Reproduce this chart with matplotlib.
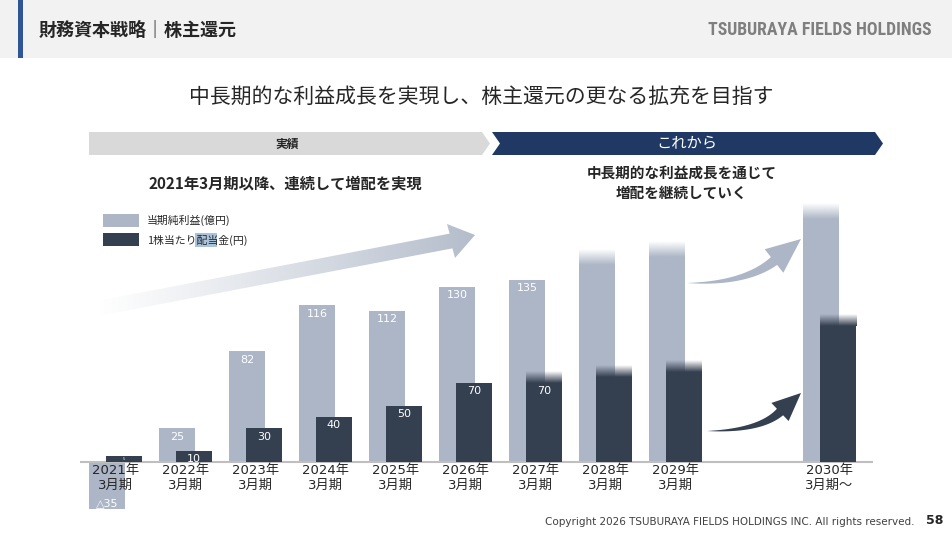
import numpy as np
import matplotlib
matplotlib.use("Agg")
import matplotlib.pyplot as plt
from matplotlib.patches import Polygon, Rectangle
from matplotlib.colors import to_rgb

plt.rcParams['font.family'] = ['Noto Sans CJK JP', 'DejaVu Sans']

# --- data ---
periods = ['2021年\n3月期', '2022年\n3月期', '2023年\n3月期', '2024年\n3月期', '2025年\n3月期',
           '2026年\n3月期', '2027年\n3月期', '2028年\n3月期', '2029年\n3月期', '2030年\n3月期～']
slots = [0, 1, 2, 3, 4, 5, 6, 7, 8, 10.2]
profit = [-35, 25, 82, 116, 112, 130, 135, 146, 152, 180]          # 億円
profit_labels = ['△35', '25', '82', '116', '112', '130', '135', '', '', '']
dividend = [5, 10, 30, 40, 50, 70, 70, 75, 80, 120]               # 円
dividend_labels = ['5', '10', '30', '40', '50', '70', '70', '', '', '']
profit_faded = [False] * 7 + [True] * 3
dividend_faded = [False] * 6 + [True] * 4

LIGHT = '#adb6c6'
DARK = '#343f4f'
NAVY = '#1f3864'
TXT = '#262626'

W, H = 953, 533
fig = plt.figure(figsize=(W / 100, H / 100), dpi=100)

# background layer in pixel coordinates
bg = fig.add_axes([0, 0, 1, 1])
bg.set_xlim(0, W)
bg.set_ylim(H, 0)
bg.axis('off')

bg.add_patch(Rectangle((0, 0), W, 58, color='#f2f2f2', lw=0))
bg.add_patch(Rectangle((18, 0), 5, 58, color='#2f5597', lw=0))
bg.text(39, 30, '財務資本戦略｜株主還元', fontsize=13, fontweight='bold', color=TXT, va='center')
bg.text(932, 30, 'TSUBURAYA FIELDS HOLDINGS', fontsize=12.8, fontweight='bold', color='#7f7f7f',
        va='center', ha='right', family=['Roboto Condensed', 'Noto Sans CJK JP'])

bg.text(481, 97, '中長期的な利益成長を実現し、株主還元の更なる拡充を目指す', fontsize=15,
        color=TXT, ha='center', va='center')

# phase banners
bg.add_patch(Polygon([(89, 132), (482, 132), (490, 143.5), (482, 155), (89, 155)],
                     closed=True, color='#d9d9d9', lw=0))
bg.add_patch(Polygon([(492, 132), (875, 132), (883, 143.5), (875, 155), (492, 155), (500, 143.5)],
                     closed=True, color=NAVY, lw=0))
bg.text(287, 144, '実績', fontsize=8.5, fontweight='bold', color=TXT, ha='center', va='center')
bg.text(687, 144, 'これから', fontsize=11, color='white', ha='center', va='center')

bg.text(285, 184, '2021年3月期以降、連続して増配を実現', fontsize=11, fontweight='bold',
        color=TXT, ha='center', va='center')
bg.text(682, 183, '中長期的な利益成長を通じて\n増配を継続していく', fontsize=10.5, fontweight='bold',
        color=TXT, ha='center', va='center', linespacing=1.3)

# legend
bg.add_patch(Rectangle((103, 214), 36, 13, color=LIGHT, lw=0))
bg.add_patch(Rectangle((103, 233), 36, 13, color=DARK, lw=0))
bg.add_patch(Rectangle((195, 233), 22, 14, color='#a9c3dd', lw=0))
bg.text(147, 220.5, '当期純利益(億円)', fontsize=7.8, color=TXT, va='center')
bg.text(147, 240, '1株当たり配当金(円)', fontsize=7.8, color=TXT, va='center')

# big gradient arrow
tail = np.array([100.0, 308.0])
base = np.array([451.0, 241.0])
d = (base - tail) / np.linalg.norm(base - tail)
n = np.array([-d[1], d[0]])
hw = 7.5
arrow_pts = [tail - n * hw, base - n * hw, (447, 224), (475, 235), (455, 258), base + n * hw, tail + n * hw]
clip = Polygon(arrow_pts, closed=True, fc='none', ec='none')
bg.add_patch(clip)
grad = np.zeros((1, 256, 4))
grad[..., :3] = to_rgb('#b3bccb')
grad[..., 3] = np.linspace(0, 1, 256) ** 1.1
im = bg.imshow(grad, extent=[95, 478, 320, 220], aspect='auto', interpolation='bilinear', zorder=1)
im.set_clip_path(clip)


def curved_arrow(ax, p0, c, p1, tip, shaft_w, head_hw, color):
    p0, c, p1, tip = map(np.asarray, (p0, c, p1, tip))
    t = np.linspace(0, 1, 50)[:, None]
    pts = (1 - t) ** 2 * p0 + 2 * (1 - t) * t * c + t ** 2 * p1
    der = 2 * (1 - t) * (c - p0) + 2 * t * (p1 - c)
    nrm = np.column_stack([-der[:, 1], der[:, 0]])
    nrm /= np.linalg.norm(nrm, axis=1)[:, None]
    w = (shaft_w / 2) * t[:, 0] ** 0.9
    left = pts + nrm * w[:, None]
    right = pts - nrm * w[:, None]
    ne = nrm[-1]
    poly = np.vstack([left, p1 + ne * head_hw, tip, p1 - ne * head_hw, right[::-1]])
    ax.add_patch(Polygon(poly, closed=True, color=color, lw=0, zorder=2))


curved_arrow(bg, (687, 283), (745, 284), (774, 261), (801, 239), 10, 15, LIGHT)
curved_arrow(bg, (707, 431), (760, 431), (780, 412), (801, 393), 9, 12.5, DARK)

# footer
bg.text(915, 522, 'Copyright 2026 TSUBURAYA FIELDS HOLDINGS INC. All rights reserved.',
        fontsize=7.5, color='#404040', ha='right', va='center', family=['DejaVu Sans'])
bg.text(935, 521, '58', fontsize=9, fontweight='bold', color=TXT, ha='center', va='center',
        family=['DejaVu Sans'])

bg.set_xlim(0, W)
bg.set_ylim(H, 0)

# --- chart ---
ax = fig.add_axes([80 / W, 13 / H, 793 / W, 320 / H])
ax2 = ax.twinx()
for a in (ax, ax2):
    a.patch.set_visible(False)
    for s in a.spines.values():
        s.set_visible(False)
    a.set_xticks([])
    a.set_yticks([])

x = np.array(slots, dtype=float)
bw = 36 / 70
off = 17 / 70
x_l = x
x_d = x + off


def fade_cap(a, xc, v, length, color):
    g = np.zeros((64, 1, 4))
    g[..., :3] = to_rgb(color)
    g[:, 0, 3] = np.linspace(0, 1, 64)
    a.imshow(g, extent=[xc - bw / 2, xc + bw / 2, v, v + length], aspect='auto',
             interpolation='bilinear', zorder=2)


ax.bar(x_l, profit, width=bw, color=LIGHT, lw=0, zorder=2)
for xi, v, f in zip(x_l, profit, profit_faded):
    if f:
        fade_cap(ax, xi, v, 16 / 1.35, LIGHT)
for xi, v, lab in zip(x_l, profit, profit_labels):
    if not lab:
        continue
    if v >= 0:
        ax.annotate(lab, (xi, v), xytext=(0, -2.5), textcoords='offset points', ha='center',
                    va='top', fontsize=8, color='white', family=['DejaVu Sans'], zorder=4)
    else:
        ax.annotate(lab, (xi, v), xytext=(0, 0.5), textcoords='offset points', ha='center',
                    va='bottom', fontsize=8, color='white', family=['DejaVu Sans'], zorder=4)

ax2.bar(x_d, dividend, width=bw, color=DARK, lw=0, zorder=2)
for xi, v, f in zip(x_d, dividend, dividend_faded):
    if f:
        fade_cap(ax2, xi, v, 12 / 1.13, DARK)
for xi, v, lab in zip(x_d, dividend, dividend_labels):
    if not lab:
        continue
    fs = 8 if v > 6 else 2.5
    ax2.annotate(lab, (xi, v), xytext=(0, -2.5 if v > 6 else -0.5), textcoords='offset points',
                 ha='center', va='top', fontsize=fs, color='white', family=['DejaVu Sans'], zorder=4)

ax2.axhline(0, color='#bfbfbf', lw=1.5, zorder=1)

for xi, lab in zip(x + off / 2, periods):
    ax2.annotate(lab, (xi, 0), xytext=(0, -1.5), textcoords='offset points', ha='center', va='top',
                 fontsize=9.5, color=TXT, linespacing=1.2, multialignment='center',
                 family=['DejaVu Sans', 'Noto Sans CJK JP'], zorder=5)

ax.set_xlim((80 - 107) / 70, (873 - 107) / 70)
ax2.set_xlim((80 - 107) / 70, (873 - 107) / 70)
ax.set_ylim(-58 / 1.35, 262 / 1.35)
ax2.set_ylim(-58 / 1.13, 262 / 1.13)

fig.savefig('out.png', dpi=100)
